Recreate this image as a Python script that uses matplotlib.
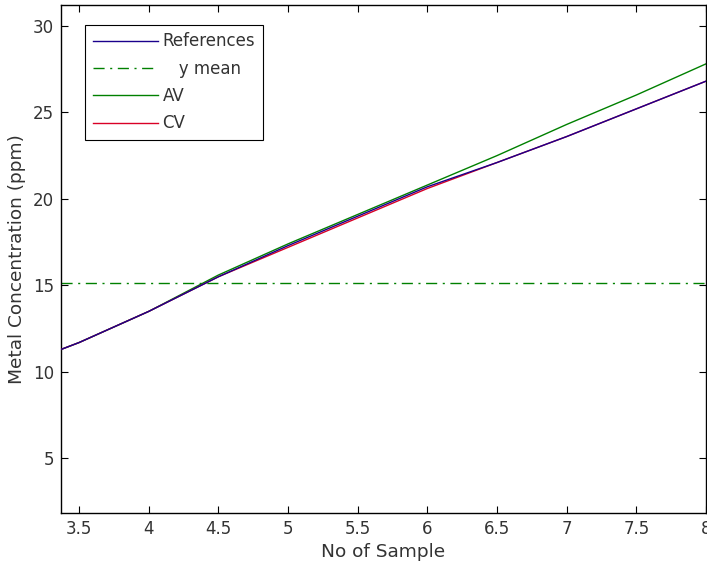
import matplotlib
matplotlib.use("Agg")
import matplotlib.pyplot as plt
import numpy as np

# values
x = [3.37, 3.5, 4.0, 4.5, 5.0, 5.5, 6.0, 6.5, 7.0, 7.5, 8.0]
references = [11.3, 11.7, 13.5, 15.5, 17.3, 19.0, 20.7, 22.1, 23.6, 25.2, 26.8]
av = [11.3, 11.7, 13.5, 15.6, 17.4, 19.1, 20.8, 22.5, 24.3, 26.0, 27.8]
cv = [11.3, 11.7, 13.5, 15.5, 17.2, 18.9, 20.6, 22.1, 23.6, 25.2, 26.8]
y_mean = 15.15

xticks = [3.5, 4, 4.5, 5, 5.5, 6, 6.5, 7, 7.5, 8]
xtick_labels = ["3.5", "4", "4.5", "5", "5.5", "6", "6.5", "7", "7.5", "8"]
yticks = [5, 10, 15, 20, 25, 30]

plt.rcParams["font.family"] = ["DejaVu Sans"]
plt.rcParams["font.size"] = 12

fig = plt.figure(figsize=(7.07, 5.68), dpi=100)
ax = fig.add_axes([0.0863, 0.0974, 0.9123, 0.8938])

ax.plot(x, av, color=(0.0, 0.5, 0.0), lw=1.0, label="AV", zorder=2)
ax.plot(x, cv, color=(0.85, 0.0, 0.15), lw=1.0, label="CV", zorder=3)
ax.plot(x, references, color=(0.1, 0.0, 0.55), lw=1.0, label="References", zorder=4)
ax.axhline(y_mean, color=(0.0, 0.5, 0.0), lw=1.0, ls=(0, (8, 4, 1.5, 4)), label="   y mean", zorder=1)

ax.set_xlim(3.37, 8.0)
ax.set_ylim(1.87, 31.2)
ax.set_xticks(xticks)
ax.set_xticklabels(xtick_labels)
ax.set_yticks(yticks)
ax.tick_params(direction="in", length=5, width=0.8, top=True, right=True, pad=5,
               colors="black", labelcolor="#333333")
for s in ax.spines.values():
    s.set_linewidth(1.0)

ax.set_xlabel("No of Sample", fontsize=13.3, labelpad=4, color="#333333")
ax.set_ylabel("Metal Concentration (ppm)", fontsize=13.3, labelpad=5, color="#333333")

handles, labels = ax.get_legend_handles_labels()
order = [2, 3, 0, 1]
leg = ax.legend([handles[i] for i in order], [labels[i] for i in order],
                loc="upper left", bbox_to_anchor=(24 / 645, 1 - 20 / 507.7),
                borderaxespad=0, handlelength=3.9, handletextpad=0.3,
                labelspacing=0.56, fancybox=False, framealpha=1, edgecolor="black",
                borderpad=0.45)
leg.get_frame().set_linewidth(0.8)
for t in leg.get_texts():
    t.set_color("#333333")

fig.savefig("out.png", dpi=100)
